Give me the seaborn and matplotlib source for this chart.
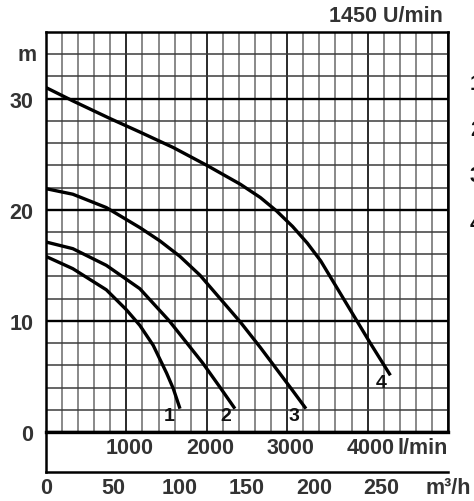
import numpy as np
import pandas as pd
import matplotlib
matplotlib.use("Agg")
import matplotlib.pyplot as plt
import seaborn as sns

# ---- data (flow in m3/h, head in m) ----
curve1_q = [0, 20, 45, 60, 70, 80, 90, 95, 100]
curve1_h = [15.8, 14.7, 12.8, 11.0, 9.6, 7.8, 5.3, 3.9, 2.1]
curve2_q = [0, 20, 45, 70, 92, 117, 130, 141]
curve2_h = [17.1, 16.5, 15.0, 12.9, 10.0, 6.2, 4.0, 2.1]
curve3_q = [0, 20, 45, 70, 85, 100, 115, 130, 145, 160, 183, 194]
curve3_h = [21.9, 21.4, 20.2, 18.4, 17.2, 15.8, 14.1, 12.0, 9.9, 7.6, 3.9, 2.1]
curve4_q = [0, 20, 48, 70, 95, 120, 145, 160, 172, 184, 195, 205, 217, 229, 242, 257]
curve4_h = [31.0, 29.8, 28.2, 27.0, 25.6, 24.0, 22.3, 21.1, 19.9, 18.5, 17.0, 15.4, 13.0, 10.6, 8.0, 5.1]
curve_names = ["1", "2", "3", "4"]
label_pos_q = [92, 134, 185, 250]
label_pos_h = [1.45, 1.45, 1.45, 4.5]

head_ticks = [0, 10, 20, 30]
flow_m3h_ticks = [0, 50, 100, 150, 200, 250, 300]
flow_m3h_labels = ["0", "50", "100", "150", "200", "250", "m³/h"]
flow_lmin_ticks = [1000, 2000, 3000, 4000]
speed_text = "1450 U/min"

frames = []
for name, q, h in zip(curve_names, [curve1_q, curve2_q, curve3_q, curve4_q],
                      [curve1_h, curve2_h, curve3_h, curve4_h]):
    frames.append(pd.DataFrame({"q": q, "h": h, "curve": name}))
df = pd.concat(frames, ignore_index=True)

sns.set_theme(style="white")
plt.rcParams["font.family"] = ["Liberation Sans", "DejaVu Sans"]
TXT = "#333333"
FS = 15.5

fig = plt.figure(figsize=(4.74, 5.02), dpi=100)
ax = fig.add_axes([46 / 474, 1 - 433 / 502, 402 / 474, 400 / 502])

sns.lineplot(data=df, x="q", y="h", hue="curve", palette={n: "black" for n in curve_names},
             estimator=None, sort=False, legend=False, lw=2.4, ax=ax)
for ln in ax.lines:
    ln.set_solid_joinstyle("round")
    ln.set_solid_capstyle("butt")
    ln.set_zorder(3)

ax.set_xlim(0, 300)
ax.set_ylim(0, 36)
ax.set_xticks(np.arange(0, 301, 60))
ax.set_xticks(np.arange(0, 301, 12), minor=True)
ax.set_yticks(head_ticks)
ax.set_yticklabels([str(v) for v in head_ticks])
ax.set_yticks(np.arange(0, 37, 2), minor=True)
ax.tick_params(which="both", length=0)
ax.tick_params(axis="x", labelbottom=False)
ax.tick_params(axis="y", pad=9, labelsize=FS, labelcolor=TXT)
for lbl in ax.get_yticklabels():
    lbl.set_fontweight("bold")
ax.xaxis.grid(True, which="minor", color="#6a6a6a", lw=1.1)
ax.yaxis.grid(True, which="minor", color="#3c3c3c", lw=1.1)
ax.xaxis.grid(True, which="major", color="#2a2a2a", lw=1.4)
ax.yaxis.grid(True, which="major", color="#000000", lw=1.7)
ax.set_axisbelow(True)
ax.set_xlabel("")
ax.set_ylabel("")
for s in ax.spines.values():
    s.set_visible(True)
    s.set_color("black")
    s.set_linewidth(1.8)
ax.spines["bottom"].set_linewidth(2.4)

ax.annotate("m", xy=(0, 34), xycoords=("axes fraction", "data"), xytext=(-7, 0),
            textcoords="offset points", ha="right", va="center", fontsize=FS,
            fontweight="bold", color=TXT)

for name, q, h in zip(curve_names, label_pos_q, label_pos_h):
    ax.text(q, h, name, ha="center", va="center", fontsize=14, fontweight="bold", color="#111111")

# secondary axis (m3/h scale) below
ax2 = fig.add_axes([46 / 474, 1 - 473 / 502, 402 / 474, 40 / 502])
ax2.set_xlim(0, 300)
ax2.set_ylim(0, 1)
ax2.patch.set_visible(False)
ax2.spines["top"].set_visible(False)
ax2.spines["right"].set_visible(False)
for s in ["left", "bottom"]:
    ax2.spines[s].set_color("black")
    ax2.spines[s].set_linewidth(1.8)
ax2.set_yticks([])
ax2.set_xticks(flow_m3h_ticks)
ax2.set_xticklabels(flow_m3h_labels)
ax2.tick_params(axis="x", length=3, width=1.2, color="black", pad=0.5,
                labelsize=FS, labelcolor=TXT)
for lbl in ax2.get_xticklabels():
    lbl.set_fontweight("bold")

for v in flow_lmin_ticks:
    ax2.text(v * 0.06 + 2.5, 0.62, str(v), ha="center", va="center", fontsize=FS,
             fontweight="bold", color=TXT)
ax2.text(300, 0.62, "l/min", ha="right", va="center", fontsize=FS, fontweight="bold", color=TXT)

fig.text(443 / 474, 1 - 17 / 502, speed_text, ha="right", va="center", fontsize=FS,
         fontweight="bold", color=TXT)

for name, y in zip(curve_names, [85, 130, 177, 224]):
    fig.text(470 / 474, 1 - y / 502, name, ha="left", va="center", fontsize=FS,
             fontweight="bold", color="#111111")

fig.savefig("out.png", dpi=100)
